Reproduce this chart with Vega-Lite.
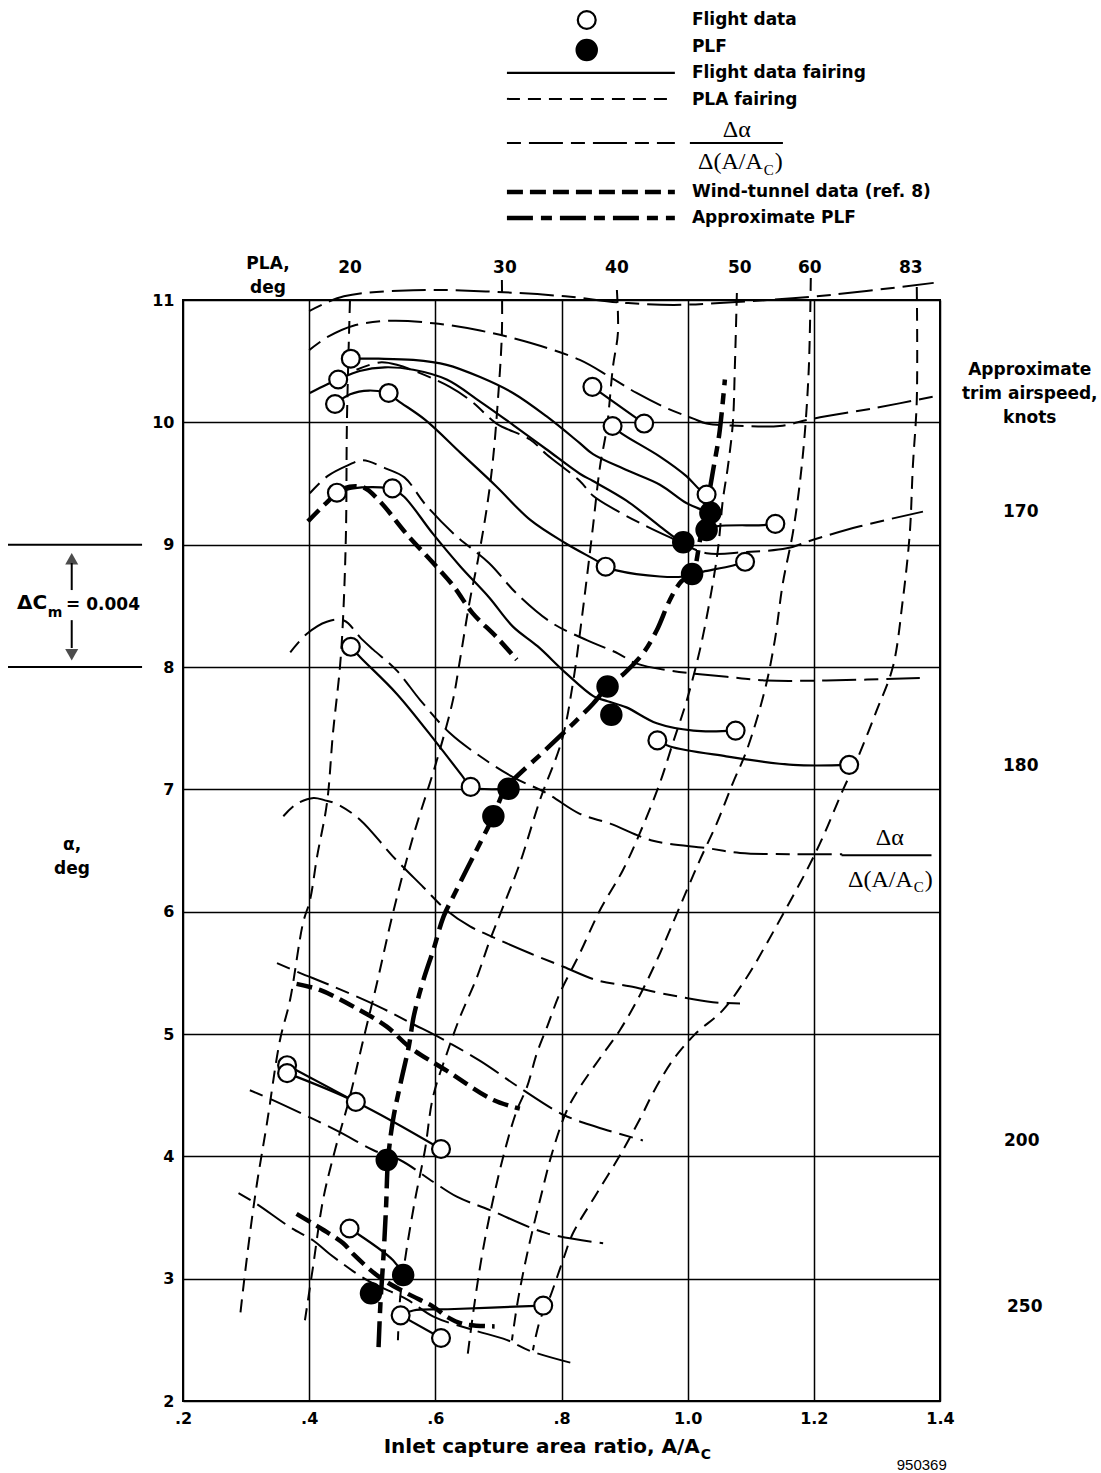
{
"$schema":"https://vega.github.io/schema/vega-lite/v6.json",
"width":757,"height":1101,
"autosize":{"type":"none"},
"padding":{"left":183,"top":300,"right":161,"bottom":72},
"background":"white",
"config":{
 "view":{"stroke":"black","strokeWidth":2},
 "axis":{"grid":true,"gridColor":"black","gridOpacity":1,"gridWidth":1.5,"domain":false,"ticks":false,"labelFont":"DejaVu Sans","labelFontWeight":"bold","labelFontSize":16,"labelColor":"black","labelPadding":9,"labelFlush":false},
 "text":{"font":"DejaVu Sans","fontWeight":"bold","fontSize":17,"color":"black","baseline":"middle"}
},
"encoding":{
 "x":{"field":"x","type":"quantitative","scale":{"domain":[0.2,1.4],"nice":false,"zero":false},"axis":{"values":[0.2,0.4,0.6,0.8,1.0,1.2,1.4],"title":null,"labelExpr":"datum.value < 0.99 ? '.' + round(datum.value*10) : format(datum.value, '.1f')"}},
 "y":{"field":"y","type":"quantitative","scale":{"domain":[2,11],"nice":false,"zero":false},"axis":{"values":[2,3,4,5,6,7,8,9,10,11],"title":null}}
},
"datasets":{
"curves":[
{"id":"f1","k":"f","x":0.466,"y":10.52},{"id":"f1","k":"f","x":0.51,"y":10.52},{"id":"f1","k":"f","x":0.565,"y":10.51},{"id":"f1","k":"f","x":0.618,"y":10.47},{"id":"f1","k":"f","x":0.671,"y":10.37},{"id":"f1","k":"f","x":0.723,"y":10.24},{"id":"f1","k":"f","x":0.776,"y":10.05},{"id":"f1","k":"f","x":0.829,"y":9.83},{"id":"f1","k":"f","x":0.85,"y":9.74},{"id":"f1","k":"f","x":0.903,"y":9.61},{"id":"f1","k":"f","x":0.956,"y":9.49},{"id":"f1","k":"f","x":0.998,"y":9.34},{"id":"f1","k":"f","x":1.025,"y":9.28},{"id":"f1","k":"f","x":1.036,"y":9.26},
{"id":"f2","k":"f","x":0.401,"y":10.24},{"id":"f2","k":"f","x":0.428,"y":10.31},{"id":"f2","k":"f","x":0.446,"y":10.35},{"id":"f2","k":"f","x":0.48,"y":10.42},{"id":"f2","k":"f","x":0.52,"y":10.45},{"id":"f2","k":"f","x":0.565,"y":10.43},{"id":"f2","k":"f","x":0.618,"y":10.35},{"id":"f2","k":"f","x":0.671,"y":10.17},{"id":"f2","k":"f","x":0.723,"y":9.98},{"id":"f2","k":"f","x":0.776,"y":9.78},{"id":"f2","k":"f","x":0.829,"y":9.58},{"id":"f2","k":"f","x":0.85,"y":9.52},{"id":"f2","k":"f","x":0.903,"y":9.36},{"id":"f2","k":"f","x":0.956,"y":9.15},{"id":"f2","k":"f","x":0.982,"y":9.05},{"id":"f2","k":"f","x":0.993,"y":9.02},
{"id":"f3","k":"f","x":0.441,"y":10.15},{"id":"f3","k":"f","x":0.465,"y":10.23},{"id":"f3","k":"f","x":0.495,"y":10.26},{"id":"f3","k":"f","x":0.526,"y":10.24},
{"id":"f4","k":"f","x":0.526,"y":10.24},{"id":"f4","k":"f","x":0.54,"y":10.18},{"id":"f4","k":"f","x":0.584,"y":10.02},{"id":"f4","k":"f","x":0.64,"y":9.75},{"id":"f4","k":"f","x":0.696,"y":9.48},{"id":"f4","k":"f","x":0.751,"y":9.2},{"id":"f4","k":"f","x":0.807,"y":9.01},{"id":"f4","k":"f","x":0.862,"y":8.85},{"id":"f4","k":"f","x":0.87,"y":8.82},
{"id":"f5","k":"f","x":0.87,"y":8.82},{"id":"f5","k":"f","x":0.887,"y":8.79},{"id":"f5","k":"f","x":0.956,"y":8.74},{"id":"f5","k":"f","x":0.993,"y":8.74},{"id":"f5","k":"f","x":1.007,"y":8.76},{"id":"f5","k":"f","x":1.025,"y":8.78},{"id":"f5","k":"f","x":1.072,"y":8.83},{"id":"f5","k":"f","x":1.091,"y":8.86},
{"id":"f6","k":"f","x":1.03,"y":9.12},{"id":"f6","k":"f","x":1.046,"y":9.15},{"id":"f6","k":"f","x":1.12,"y":9.16},{"id":"f6","k":"f","x":1.139,"y":9.17},
{"id":"f7","k":"f","x":0.881,"y":9.97},{"id":"f7","k":"f","x":0.895,"y":9.91},{"id":"f7","k":"f","x":0.956,"y":9.72},{"id":"f7","k":"f","x":0.998,"y":9.56},{"id":"f7","k":"f","x":1.019,"y":9.45},{"id":"f7","k":"f","x":1.03,"y":9.41},
{"id":"f8","k":"f","x":0.849,"y":10.29},{"id":"f8","k":"f","x":0.931,"y":9.99},
{"id":"f9","k":"f","x":0.444,"y":9.425},{"id":"f9","k":"f","x":0.47,"y":9.46},{"id":"f9","k":"f","x":0.5,"y":9.47},{"id":"f9","k":"f","x":0.532,"y":9.46},
{"id":"f10","k":"f","x":0.532,"y":9.46},{"id":"f10","k":"f","x":0.551,"y":9.39},{"id":"f10","k":"f","x":0.596,"y":9.09},{"id":"f10","k":"f","x":0.64,"y":8.82},{"id":"f10","k":"f","x":0.685,"y":8.57},{"id":"f10","k":"f","x":0.723,"y":8.33},{"id":"f10","k":"f","x":0.762,"y":8.17},{"id":"f10","k":"f","x":0.807,"y":7.95},{"id":"f10","k":"f","x":0.851,"y":7.76},{"id":"f10","k":"f","x":0.873,"y":7.72},{"id":"f10","k":"f","x":0.903,"y":7.67},{"id":"f10","k":"f","x":0.951,"y":7.54},{"id":"f10","k":"f","x":1.009,"y":7.48},{"id":"f10","k":"f","x":1.076,"y":7.48},
{"id":"f11","k":"f","x":0.952,"y":7.4},{"id":"f11","k":"f","x":0.972,"y":7.35},{"id":"f11","k":"f","x":1.061,"y":7.27},{"id":"f11","k":"f","x":1.167,"y":7.2},{"id":"f11","k":"f","x":1.256,"y":7.2},
{"id":"f12","k":"f","x":0.466,"y":8.165},{"id":"f12","k":"f","x":0.481,"y":8.08},{"id":"f12","k":"f","x":0.539,"y":7.78},{"id":"f12","k":"f","x":0.602,"y":7.38},{"id":"f12","k":"f","x":0.644,"y":7.1},{"id":"f12","k":"f","x":0.656,"y":7.02},{"id":"f12","k":"f","x":0.716,"y":7.005},
{"id":"f13","k":"f","x":0.365,"y":4.745},{"id":"f13","k":"f","x":0.474,"y":4.445},
{"id":"f14","k":"f","x":0.365,"y":4.68},{"id":"f14","k":"f","x":0.474,"y":4.445},{"id":"f14","k":"f","x":0.609,"y":4.06},
{"id":"f15","k":"f","x":0.464,"y":3.41},{"id":"f15","k":"f","x":0.533,"y":3.15},{"id":"f15","k":"f","x":0.549,"y":3.03},
{"id":"f16","k":"f","x":0.545,"y":2.7},{"id":"f16","k":"f","x":0.609,"y":2.515},
{"id":"f17","k":"f","x":0.545,"y":2.7},{"id":"f17","k":"f","x":0.565,"y":2.74},{"id":"f17","k":"f","x":0.62,"y":2.75},{"id":"f17","k":"f","x":0.771,"y":2.78},
{"id":"p20","k":"p","x":0.4647,"y":11.0},{"id":"p20","k":"p","x":0.4599,"y":10.019},{"id":"p20","k":"p","x":0.4583,"y":9.095},{"id":"p20","k":"p","x":0.4536,"y":8.384},{"id":"p20","k":"p","x":0.4488,"y":7.999},{"id":"p20","k":"p","x":0.4377,"y":7.459},{"id":"p20","k":"p","x":0.4282,"y":6.887},{"id":"p20","k":"p","x":0.4124,"y":6.446},{"id":"p20","k":"p","x":0.4013,"y":6.094},{"id":"p20","k":"p","x":0.3902,"y":5.906},{"id":"p20","k":"p","x":0.3696,"y":5.276},{"id":"p20","k":"p","x":0.3537,"y":4.949},{"id":"p20","k":"p","x":0.3331,"y":4.271},{"id":"p20","k":"p","x":0.3173,"y":3.78},{"id":"p20","k":"p","x":0.3062,"y":3.371},{"id":"p20","k":"p","x":0.2951,"y":2.905},{"id":"p20","k":"p","x":0.2903,"y":2.684},
{"id":"p30","k":"p","x":0.7055,"y":11.164},{"id":"p30","k":"p","x":0.7055,"y":10.73},{"id":"p30","k":"p","x":0.6992,"y":10.182},{"id":"p30","k":"p","x":0.6913,"y":9.692},{"id":"p30","k":"p","x":0.6818,"y":9.307},{"id":"p30","k":"p","x":0.6675,"y":8.874},{"id":"p30","k":"p","x":0.6548,"y":8.547},{"id":"p30","k":"p","x":0.639,"y":8.056},{"id":"p30","k":"p","x":0.6279,"y":7.729},{"id":"p30","k":"p","x":0.6025,"y":7.239},{"id":"p30","k":"p","x":0.5645,"y":6.609},{"id":"p30","k":"p","x":0.5328,"y":5.988},{"id":"p30","k":"p","x":0.5074,"y":5.415},{"id":"p30","k":"p","x":0.4837,"y":4.908},{"id":"p30","k":"p","x":0.4631,"y":4.459},{"id":"p30","k":"p","x":0.4409,"y":4.05},{"id":"p30","k":"p","x":0.4219,"y":3.641},{"id":"p30","k":"p","x":0.406,"y":3.093},{"id":"p30","k":"p","x":0.3933,"y":2.66},
{"id":"p40","k":"p","x":0.8878,"y":11.082},{"id":"p40","k":"p","x":0.8894,"y":10.73},{"id":"p40","k":"p","x":0.8815,"y":10.452},{"id":"p40","k":"p","x":0.872,"y":9.962},{"id":"p40","k":"p","x":0.8609,"y":9.634},{"id":"p40","k":"p","x":0.8498,"y":9.144},{"id":"p40","k":"p","x":0.8403,"y":8.735},{"id":"p40","k":"p","x":0.8292,"y":8.277},{"id":"p40","k":"p","x":0.8181,"y":7.868},{"id":"p40","k":"p","x":0.8006,"y":7.402},{"id":"p40","k":"p","x":0.7658,"y":6.912},{"id":"p40","k":"p","x":0.7341,"y":6.397},{"id":"p40","k":"p","x":0.7071,"y":6.037},{"id":"p40","k":"p","x":0.6865,"y":5.767},{"id":"p40","k":"p","x":0.6659,"y":5.464},{"id":"p40","k":"p","x":0.639,"y":5.137},{"id":"p40","k":"p","x":0.6184,"y":4.843},{"id":"p40","k":"p","x":0.5962,"y":4.483},{"id":"p40","k":"p","x":0.5835,"y":4.05},{"id":"p40","k":"p","x":0.5677,"y":3.641},{"id":"p40","k":"p","x":0.5518,"y":3.15},{"id":"p40","k":"p","x":0.5439,"y":2.823},{"id":"p40","k":"p","x":0.5407,"y":2.496},
{"id":"p50","k":"p","x":1.078,"y":11.057},{"id":"p50","k":"p","x":1.0748,"y":10.452},{"id":"p50","k":"p","x":1.0716,"y":9.994},{"id":"p50","k":"p","x":1.0637,"y":9.635},{"id":"p50","k":"p","x":1.0558,"y":9.365},{"id":"p50","k":"p","x":1.0479,"y":8.956},{"id":"p50","k":"p","x":1.0352,"y":8.547},{"id":"p50","k":"p","x":1.0193,"y":8.138},{"id":"p50","k":"p","x":0.9987,"y":7.729},{"id":"p50","k":"p","x":0.9765,"y":7.378},{"id":"p50","k":"p","x":0.9559,"y":7.051},{"id":"p50","k":"p","x":0.9242,"y":6.642},{"id":"p50","k":"p","x":0.8973,"y":6.339},{"id":"p50","k":"p","x":0.8609,"y":6.012},{"id":"p50","k":"p","x":0.8292,"y":5.661},{"id":"p50","k":"p","x":0.7975,"y":5.334},{"id":"p50","k":"p","x":0.7769,"y":5.055},{"id":"p50","k":"p","x":0.761,"y":4.843},{"id":"p50","k":"p","x":0.7452,"y":4.565},{"id":"p50","k":"p","x":0.7293,"y":4.377},{"id":"p50","k":"p","x":0.7103,"y":4.05},{"id":"p50","k":"p","x":0.6913,"y":3.641},{"id":"p50","k":"p","x":0.6754,"y":3.232},{"id":"p50","k":"p","x":0.6628,"y":2.823},{"id":"p50","k":"p","x":0.6501,"y":2.333},
{"id":"p60","k":"p","x":1.1952,"y":11.18},{"id":"p60","k":"p","x":1.1921,"y":10.452},{"id":"p60","k":"p","x":1.1857,"y":9.913},{"id":"p60","k":"p","x":1.1778,"y":9.504},{"id":"p60","k":"p","x":1.1667,"y":9.095},{"id":"p60","k":"p","x":1.1509,"y":8.686},{"id":"p60","k":"p","x":1.1382,"y":8.22},{"id":"p60","k":"p","x":1.1223,"y":7.811},{"id":"p60","k":"p","x":1.0938,"y":7.321},{"id":"p60","k":"p","x":1.0716,"y":7.051},{"id":"p60","k":"p","x":1.0463,"y":6.724},{"id":"p60","k":"p","x":1.0193,"y":6.421},{"id":"p60","k":"p","x":0.9987,"y":6.176},{"id":"p60","k":"p","x":0.9718,"y":5.849},{"id":"p60","k":"p","x":0.9512,"y":5.603},{"id":"p60","k":"p","x":0.9242,"y":5.317},{"id":"p60","k":"p","x":0.8925,"y":5.031},{"id":"p60","k":"p","x":0.8609,"y":4.802},{"id":"p60","k":"p","x":0.8292,"y":4.565},{"id":"p60","k":"p","x":0.8086,"y":4.377},{"id":"p60","k":"p","x":0.7864,"y":4.05},{"id":"p60","k":"p","x":0.7658,"y":3.641},{"id":"p60","k":"p","x":0.7468,"y":3.232},{"id":"p60","k":"p","x":0.7309,"y":2.823},{"id":"p60","k":"p","x":0.7214,"y":2.496},
{"id":"p83","k":"p","x":1.3632,"y":11.106},{"id":"p83","k":"p","x":1.3632,"y":10.182},{"id":"p83","k":"p","x":1.3569,"y":9.634},{"id":"p83","k":"p","x":1.3521,"y":9.095},{"id":"p83","k":"p","x":1.341,"y":8.547},{"id":"p83","k":"p","x":1.3252,"y":7.999},{"id":"p83","k":"p","x":1.2998,"y":7.647},{"id":"p83","k":"p","x":1.2681,"y":7.239},{"id":"p83","k":"p","x":1.246,"y":6.993},{"id":"p83","k":"p","x":1.2143,"y":6.609},{"id":"p83","k":"p","x":1.1889,"y":6.339},{"id":"p83","k":"p","x":1.1572,"y":6.037},{"id":"p83","k":"p","x":1.1255,"y":5.742},{"id":"p83","k":"p","x":1.0938,"y":5.464},{"id":"p83","k":"p","x":1.0558,"y":5.195},{"id":"p83","k":"p","x":1.0114,"y":4.997},{"id":"p83","k":"p","x":0.9765,"y":4.786},{"id":"p83","k":"p","x":0.9448,"y":4.516},{"id":"p83","k":"p","x":0.929,"y":4.352},{"id":"p83","k":"p","x":0.8973,"y":4.05},{"id":"p83","k":"p","x":0.8561,"y":3.698},{"id":"p83","k":"p","x":0.8181,"y":3.371},{"id":"p83","k":"p","x":0.8022,"y":3.15},{"id":"p83","k":"p","x":0.7816,"y":2.848},{"id":"p83","k":"p","x":0.7658,"y":2.66},{"id":"p83","k":"p","x":0.7547,"y":2.415},
{"id":"h1","k":"d","x":0.4,"y":10.91},{"id":"h1","k":"d","x":0.455,"y":11.03},{"id":"h1","k":"d","x":0.565,"y":11.08},{"id":"h1","k":"d","x":0.68,"y":11.07},{"id":"h1","k":"d","x":0.806,"y":11.03},{"id":"h1","k":"d","x":0.892,"y":10.98},{"id":"h1","k":"d","x":0.978,"y":10.96},{"id":"h1","k":"d","x":1.064,"y":10.98},{"id":"h1","k":"d","x":1.204,"y":11.03},{"id":"h1","k":"d","x":1.39,"y":11.14},
{"id":"h2","k":"d","x":0.4,"y":10.59},{"id":"h2","k":"d","x":0.43,"y":10.7},{"id":"h2","k":"d","x":0.47,"y":10.79},{"id":"h2","k":"d","x":0.528,"y":10.83},{"id":"h2","k":"d","x":0.597,"y":10.81},{"id":"h2","k":"d","x":0.671,"y":10.75},{"id":"h2","k":"d","x":0.75,"y":10.65},{"id":"h2","k":"d","x":0.829,"y":10.51},{"id":"h2","k":"d","x":0.877,"y":10.37},{"id":"h2","k":"d","x":0.919,"y":10.24},{"id":"h2","k":"d","x":0.965,"y":10.12},{"id":"h2","k":"d","x":1.009,"y":10.03},{"id":"h2","k":"d","x":1.03,"y":9.99},{"id":"h2","k":"d","x":1.09,"y":9.97},{"id":"h2","k":"d","x":1.146,"y":9.97},{"id":"h2","k":"d","x":1.199,"y":10.03},{"id":"h2","k":"d","x":1.3,"y":10.12},{"id":"h2","k":"d","x":1.389,"y":10.21},
{"id":"c170","k":"d","x":0.475,"y":10.43},{"id":"c170","k":"d","x":0.512,"y":10.49},{"id":"c170","k":"d","x":0.539,"y":10.47},{"id":"c170","k":"d","x":0.623,"y":10.29},{"id":"c170","k":"d","x":0.66,"y":10.16},{"id":"c170","k":"d","x":0.697,"y":9.99},{"id":"c170","k":"d","x":0.75,"y":9.86},{"id":"c170","k":"d","x":0.776,"y":9.74},{"id":"c170","k":"d","x":0.829,"y":9.52},{"id":"c170","k":"d","x":0.85,"y":9.4},{"id":"c170","k":"d","x":0.887,"y":9.28},{"id":"c170","k":"d","x":0.935,"y":9.15},{"id":"c170","k":"d","x":0.972,"y":9.06},{"id":"c170","k":"d","x":1.03,"y":8.93},{"id":"c170","k":"d","x":1.091,"y":8.94},{"id":"c170","k":"d","x":1.157,"y":8.97},{"id":"c170","k":"d","x":1.199,"y":9.04},{"id":"c170","k":"d","x":1.273,"y":9.15},{"id":"c170","k":"d","x":1.373,"y":9.27},
{"id":"c180","k":"d","x":0.401,"y":9.42},{"id":"c180","k":"d","x":0.429,"y":9.56},{"id":"c180","k":"d","x":0.462,"y":9.65},{"id":"c180","k":"d","x":0.484,"y":9.69},{"id":"c180","k":"d","x":0.523,"y":9.62},{"id":"c180","k":"d","x":0.551,"y":9.55},{"id":"c180","k":"d","x":0.584,"y":9.33},{"id":"c180","k":"d","x":0.629,"y":9.09},{"id":"c180","k":"d","x":0.685,"y":8.85},{"id":"c180","k":"d","x":0.729,"y":8.6},{"id":"c180","k":"d","x":0.785,"y":8.36},{"id":"c180","k":"d","x":0.84,"y":8.22},{"id":"c180","k":"d","x":0.89,"y":8.11},{"id":"c180","k":"d","x":0.918,"y":8.03},{"id":"c180","k":"d","x":0.973,"y":7.97},{"id":"c180","k":"d","x":1.062,"y":7.92},{"id":"c180","k":"d","x":1.125,"y":7.89},{"id":"c180","k":"d","x":1.22,"y":7.89},{"id":"c180","k":"d","x":1.368,"y":7.91},
{"id":"d2","k":"d","x":0.37,"y":8.12},{"id":"d2","k":"d","x":0.396,"y":8.27},{"id":"d2","k":"d","x":0.428,"y":8.37},{"id":"d2","k":"d","x":0.455,"y":8.38},{"id":"d2","k":"d","x":0.483,"y":8.23},{"id":"d2","k":"d","x":0.502,"y":8.14},{"id":"d2","k":"d","x":0.539,"y":7.97},{"id":"d2","k":"d","x":0.576,"y":7.73},{"id":"d2","k":"d","x":0.623,"y":7.46},{"id":"d2","k":"d","x":0.671,"y":7.27},{"id":"d2","k":"d","x":0.723,"y":7.1},{"id":"d2","k":"d","x":0.776,"y":6.97},{"id":"d2","k":"d","x":0.829,"y":6.8},{"id":"d2","k":"d","x":0.877,"y":6.72},{"id":"d2","k":"d","x":0.945,"y":6.58},{"id":"d2","k":"d","x":1.03,"y":6.52},{"id":"d2","k":"d","x":1.083,"y":6.48},{"id":"d2","k":"d","x":1.167,"y":6.47},{"id":"d2","k":"d","x":1.245,"y":6.47},
{"id":"d1","k":"d","x":0.359,"y":6.78},{"id":"d1","k":"d","x":0.38,"y":6.88},{"id":"d1","k":"d","x":0.407,"y":6.93},{"id":"d1","k":"d","x":0.425,"y":6.91},{"id":"d1","k":"d","x":0.444,"y":6.88},{"id":"d1","k":"d","x":0.481,"y":6.75},{"id":"d1","k":"d","x":0.533,"y":6.45},{"id":"d1","k":"d","x":0.581,"y":6.2},{"id":"d1","k":"d","x":0.618,"y":6.01},{"id":"d1","k":"d","x":0.655,"y":5.88},{"id":"d1","k":"d","x":0.692,"y":5.79},{"id":"d1","k":"d","x":0.75,"y":5.66},{"id":"d1","k":"d","x":0.803,"y":5.55},{"id":"d1","k":"d","x":0.856,"y":5.44},{"id":"d1","k":"d","x":0.908,"y":5.39},{"id":"d1","k":"d","x":0.961,"y":5.33},{"id":"d1","k":"d","x":1.04,"y":5.26},{"id":"d1","k":"d","x":1.083,"y":5.25},
{"id":"d3","k":"d","x":0.349,"y":5.58},{"id":"d3","k":"d","x":0.385,"y":5.5},{"id":"d3","k":"d","x":0.433,"y":5.4},{"id":"d3","k":"d","x":0.512,"y":5.22},{"id":"d3","k":"d","x":0.565,"y":5.08},{"id":"d3","k":"d","x":0.607,"y":4.97},{"id":"d3","k":"d","x":0.671,"y":4.78},{"id":"d3","k":"d","x":0.734,"y":4.56},{"id":"d3","k":"d","x":0.803,"y":4.34},{"id":"d3","k":"d","x":0.856,"y":4.24},{"id":"d3","k":"d","x":0.929,"y":4.13},
{"id":"d4","k":"d","x":0.306,"y":4.54},{"id":"d4","k":"d","x":0.338,"y":4.47},{"id":"d4","k":"d","x":0.444,"y":4.21},{"id":"d4","k":"d","x":0.502,"y":4.05},{"id":"d4","k":"d","x":0.544,"y":3.97},{"id":"d4","k":"d","x":0.597,"y":3.79},{"id":"d4","k":"d","x":0.634,"y":3.67},{"id":"d4","k":"d","x":0.687,"y":3.56},{"id":"d4","k":"d","x":0.777,"y":3.37},{"id":"d4","k":"d","x":0.866,"y":3.29},
{"id":"d5","k":"d","x":0.288,"y":3.7},{"id":"d5","k":"d","x":0.317,"y":3.61},{"id":"d5","k":"d","x":0.37,"y":3.42},{"id":"d5","k":"d","x":0.407,"y":3.31},{"id":"d5","k":"d","x":0.433,"y":3.2},{"id":"d5","k":"d","x":0.491,"y":2.99},{"id":"d5","k":"d","x":0.555,"y":2.83},{"id":"d5","k":"d","x":0.597,"y":2.69},{"id":"d5","k":"d","x":0.66,"y":2.58},{"id":"d5","k":"d","x":0.713,"y":2.5},{"id":"d5","k":"d","x":0.75,"y":2.41},{"id":"d5","k":"d","x":0.824,"y":2.3},
{"id":"w1","k":"w","x":0.398,"y":9.19},{"id":"w1","k":"w","x":0.427,"y":9.34},{"id":"w1","k":"w","x":0.455,"y":9.46},{"id":"w1","k":"w","x":0.485,"y":9.47},{"id":"w1","k":"w","x":0.511,"y":9.36},{"id":"w1","k":"w","x":0.554,"y":9.09},{"id":"w1","k":"w","x":0.593,"y":8.87},{"id":"w1","k":"w","x":0.629,"y":8.66},{"id":"w1","k":"w","x":0.659,"y":8.44},{"id":"w1","k":"w","x":0.696,"y":8.25},{"id":"w1","k":"w","x":0.729,"y":8.06},
{"id":"w2","k":"w","x":0.38,"y":5.41},{"id":"w2","k":"w","x":0.417,"y":5.36},{"id":"w2","k":"w","x":0.475,"y":5.21},{"id":"w2","k":"w","x":0.523,"y":5.06},{"id":"w2","k":"w","x":0.56,"y":4.89},{"id":"w2","k":"w","x":0.618,"y":4.7},{"id":"w2","k":"w","x":0.692,"y":4.46},{"id":"w2","k":"w","x":0.734,"y":4.39},
{"id":"w3","k":"w","x":0.38,"y":3.53},{"id":"w3","k":"w","x":0.406,"y":3.45},{"id":"w3","k":"w","x":0.422,"y":3.4},{"id":"w3","k":"w","x":0.454,"y":3.29},{"id":"w3","k":"w","x":0.47,"y":3.2},{"id":"w3","k":"w","x":0.512,"y":3.01},{"id":"w3","k":"w","x":0.555,"y":2.88},{"id":"w3","k":"w","x":0.597,"y":2.77},{"id":"w3","k":"w","x":0.618,"y":2.69},{"id":"w3","k":"w","x":0.644,"y":2.63},{"id":"w3","k":"w","x":0.694,"y":2.61},
{"id":"a1","k":"a","x":0.51,"y":2.44},{"id":"a1","k":"a","x":0.513,"y":2.8},{"id":"a1","k":"a","x":0.518,"y":3.2},{"id":"a1","k":"a","x":0.522,"y":3.6},{"id":"a1","k":"a","x":0.525,"y":3.97},{"id":"a1","k":"a","x":0.533,"y":4.3},{"id":"a1","k":"a","x":0.545,"y":4.6},{"id":"a1","k":"a","x":0.558,"y":4.9},{"id":"a1","k":"a","x":0.566,"y":5.15},{"id":"a1","k":"a","x":0.581,"y":5.44},{"id":"a1","k":"a","x":0.597,"y":5.69},{"id":"a1","k":"a","x":0.613,"y":5.96},{"id":"a1","k":"a","x":0.628,"y":6.12},{"id":"a1","k":"a","x":0.66,"y":6.45},{"id":"a1","k":"a","x":0.692,"y":6.78},{"id":"a1","k":"a","x":0.71,"y":7.0},{"id":"a1","k":"a","x":0.724,"y":7.08},{"id":"a1","k":"a","x":0.77,"y":7.3},{"id":"a1","k":"a","x":0.813,"y":7.51},{"id":"a1","k":"a","x":0.85,"y":7.7},{"id":"a1","k":"a","x":0.873,"y":7.84},{"id":"a1","k":"a","x":0.9,"y":7.95},{"id":"a1","k":"a","x":0.929,"y":8.11},{"id":"a1","k":"a","x":0.951,"y":8.3},{"id":"a1","k":"a","x":0.972,"y":8.55},{"id":"a1","k":"a","x":0.99,"y":8.7},{"id":"a1","k":"a","x":1.007,"y":8.76},{"id":"a1","k":"a","x":1.02,"y":9.05},{"id":"a1","k":"a","x":1.03,"y":9.3},{"id":"a1","k":"a","x":1.04,"y":9.6},{"id":"a1","k":"a","x":1.05,"y":9.9},{"id":"a1","k":"a","x":1.059,"y":10.35},
{"id":"Lf","k":"f","x":0.7135,"y":12.856},{"id":"Lf","k":"f","x":0.9797,"y":12.856},
{"id":"Lp","k":"p","x":0.7135,"y":12.644},{"id":"Lp","k":"p","x":0.9797,"y":12.644},
{"id":"Ld","k":"d","x":0.7135,"y":12.284},{"id":"Ld","k":"d","x":0.9797,"y":12.284},
{"id":"Lw","k":"w","x":0.7135,"y":11.883},{"id":"Lw","k":"w","x":0.9797,"y":11.883},
{"id":"La","k":"a","x":0.7135,"y":11.67},{"id":"La","k":"a","x":0.9797,"y":11.67}
],
"open":[
{"x":0.466,"y":10.52},{"x":0.446,"y":10.35},{"x":0.441,"y":10.15},{"x":0.526,"y":10.24},{"x":0.444,"y":9.425},{"x":0.532,"y":9.46},{"x":0.466,"y":8.165},{"x":0.849,"y":10.29},{"x":0.931,"y":9.99},{"x":0.881,"y":9.97},{"x":1.03,"y":9.41},{"x":1.139,"y":9.17},{"x":1.091,"y":8.86},{"x":0.87,"y":8.82},{"x":0.656,"y":7.02},{"x":0.952,"y":7.4},{"x":1.076,"y":7.48},{"x":1.256,"y":7.2},{"x":0.365,"y":4.745},{"x":0.365,"y":4.68},{"x":0.474,"y":4.445},{"x":0.609,"y":4.06},{"x":0.464,"y":3.41},{"x":0.545,"y":2.7},{"x":0.609,"y":2.515},{"x":0.771,"y":2.78},{"x":0.84,"y":13.289}
],
"filled":[
{"x":1.036,"y":9.26},{"x":1.03,"y":9.12},{"x":0.993,"y":9.02},{"x":1.007,"y":8.76},{"x":0.873,"y":7.84},{"x":0.879,"y":7.61},{"x":0.716,"y":7.005},{"x":0.692,"y":6.78},{"x":0.523,"y":3.97},{"x":0.549,"y":3.03},{"x":0.498,"y":2.88},{"x":0.84,"y":13.044}
],
"rules":[
{"x":1.0035,"x2":1.151,"y":12.284,"y2":12.284},
{"x":1.2439,"x2":1.3865,"y":6.462,"y2":6.462},
{"x":-0.0774,"x2":0.1351,"y":9.0,"y2":9.0},
{"x":-0.0774,"x2":0.1351,"y":8.0,"y2":8.0},
{"x":0.0236,"x2":0.0236,"y":8.629,"y2":8.85},
{"x":0.0236,"x2":0.0236,"y":8.155,"y2":8.383}
],
"arrows":[
{"x":0.0236,"y":8.885,"d":"up"},{"x":0.0236,"y":8.1,"d":"down"}
],
"tc":[
{"t":"PLA,","x":0.3347,"y":11.294},{"t":"deg","x":0.3347,"y":11.098},
{"t":"20","x":0.4647,"y":11.262},{"t":"30","x":0.7103,"y":11.262},{"t":"40","x":0.8878,"y":11.262},{"t":"50","x":1.0827,"y":11.262},{"t":"60","x":1.1937,"y":11.262},{"t":"83","x":1.3537,"y":11.262},
{"t":"Approximate","x":1.5423,"y":10.428},{"t":"trim airspeed,","x":1.5423,"y":10.231},{"t":"knots","x":1.5423,"y":10.035},
{"t":"170","x":1.528,"y":9.267},{"t":"180","x":1.528,"y":7.19},{"t":"200","x":1.5296,"y":4.124},{"t":"250","x":1.5344,"y":2.766},
{"t":"α,","x":0.0241,"y":6.545},{"t":"deg","x":0.0241,"y":6.348}
],
"tl":[
{"t":"Flight data","x":1.0067,"y":13.289},{"t":"PLF","x":1.0067,"y":13.069},{"t":"Flight data fairing","x":1.0067,"y":12.856},{"t":"PLA fairing","x":1.0067,"y":12.635},{"t":"Wind-tunnel data (ref. 8)","x":1.0067,"y":11.883},{"t":"Approximate PLF","x":1.0067,"y":11.67},
{"t":"= 0.004","x":0.0146,"y":8.506}
],
"tbig":[
{"t":"ΔC","x":-0.0155,"y":8.52}
],
"ttitle":[
{"t":"Inlet capture area ratio, A/A","x":1.0193,"y":1.621}
],
"tsub":[
{"t":"m","x":-0.0145,"y":8.44},{"t":"C","x":1.0209,"y":1.556}
],
"sc":[
{"t":"Δα","x":1.078,"y":12.39},{"t":"Δα","x":1.3205,"y":6.601}
],
"sr":[
{"t":"Δ(A/A","x":1.1192,"y":12.128},{"t":"Δ(A/A","x":1.3569,"y":6.257}
],
"sl":[
{"t":")","x":1.1382,"y":12.128},{"t":")","x":1.3759,"y":6.257}
],
"ssub":[
{"t":"C","x":1.1208,"y":12.063},{"t":"C","x":1.3585,"y":6.2}
],
"note":[{"t":"950369","x":1.3711,"y":1.474}]
},
"layer":[
{"data":{"name":"curves"},"transform":[{"filter":"datum.k=='p'"}],"mark":{"type":"line","stroke":"black","strokeWidth":2,"strokeDash":[13,8],"clip":false,"interpolate":"catmull-rom"},"encoding":{"detail":{"field":"id"},"order":{"value":null}}},
{"data":{"name":"curves"},"transform":[{"filter":"datum.k=='d'"}],"mark":{"type":"line","stroke":"black","strokeWidth":2,"strokeDash":[14,8,34,8],"clip":false,"interpolate":"catmull-rom"},"encoding":{"detail":{"field":"id"},"order":{"value":null}}},
{"data":{"name":"curves"},"transform":[{"filter":"datum.k=='f'"}],"mark":{"type":"line","stroke":"black","strokeWidth":2.2,"clip":false,"interpolate":"catmull-rom"},"encoding":{"detail":{"field":"id"},"order":{"value":null}}},
{"data":{"name":"curves"},"transform":[{"filter":"datum.k=='w'"}],"mark":{"type":"line","stroke":"black","strokeWidth":4.5,"strokeDash":[16,7],"clip":false,"interpolate":"catmull-rom"},"encoding":{"detail":{"field":"id"},"order":{"value":null}}},
{"data":{"name":"curves"},"transform":[{"filter":"datum.k=='a'"}],"mark":{"type":"line","stroke":"black","strokeWidth":4.5,"strokeDash":[26,8,11,8],"clip":false,"interpolate":"catmull-rom"},"encoding":{"detail":{"field":"id"},"order":{"value":null}}},
{"data":{"name":"rules"},"mark":{"type":"rule","stroke":"black","strokeWidth":2,"clip":false},"encoding":{"x2":{"field":"x2"},"y2":{"field":"y2"}}},
{"data":{"name":"arrows"},"mark":{"type":"point","filled":true,"color":"black","size":170,"clip":false},"encoding":{"shape":{"field":"d","type":"nominal","scale":{"domain":["up","down"],"range":["triangle-up","triangle-down"]},"legend":null}}},
{"data":{"name":"open"},"mark":{"type":"point","shape":"circle","filled":true,"fill":"white","stroke":"black","strokeWidth":2.2,"size":320,"opacity":1,"clip":false}},
{"data":{"name":"filled"},"mark":{"type":"point","shape":"circle","filled":true,"fill":"black","stroke":"black","size":420,"opacity":1,"clip":false}},
{"data":{"name":"tc"},"mark":{"type":"text","align":"center","clip":false},"encoding":{"text":{"field":"t"}}},
{"data":{"name":"tl"},"mark":{"type":"text","align":"left","clip":false},"encoding":{"text":{"field":"t"}}},
{"data":{"name":"tbig"},"mark":{"type":"text","align":"right","fontSize":20,"clip":false},"encoding":{"text":{"field":"t"}}},
{"data":{"name":"ttitle"},"mark":{"type":"text","align":"right","fontSize":20,"clip":false},"encoding":{"text":{"field":"t"}}},
{"data":{"name":"tsub"},"mark":{"type":"text","align":"left","fontSize":14,"clip":false},"encoding":{"text":{"field":"t"}}},
{"data":{"name":"sc"},"mark":{"type":"text","align":"center","font":"Liberation Serif","fontWeight":"normal","fontSize":24,"clip":false},"encoding":{"text":{"field":"t"}}},
{"data":{"name":"sr"},"mark":{"type":"text","align":"right","font":"Liberation Serif","fontWeight":"normal","fontSize":24,"clip":false},"encoding":{"text":{"field":"t"}}},
{"data":{"name":"sl"},"mark":{"type":"text","align":"left","font":"Liberation Serif","fontWeight":"normal","fontSize":24,"clip":false},"encoding":{"text":{"field":"t"}}},
{"data":{"name":"ssub"},"mark":{"type":"text","align":"left","font":"Liberation Serif","fontWeight":"normal","fontSize":15,"clip":false},"encoding":{"text":{"field":"t"}}},
{"data":{"name":"note"},"mark":{"type":"text","align":"center","font":"Liberation Sans","fontWeight":"normal","fontSize":15,"clip":false},"encoding":{"text":{"field":"t"}}}
]
}
